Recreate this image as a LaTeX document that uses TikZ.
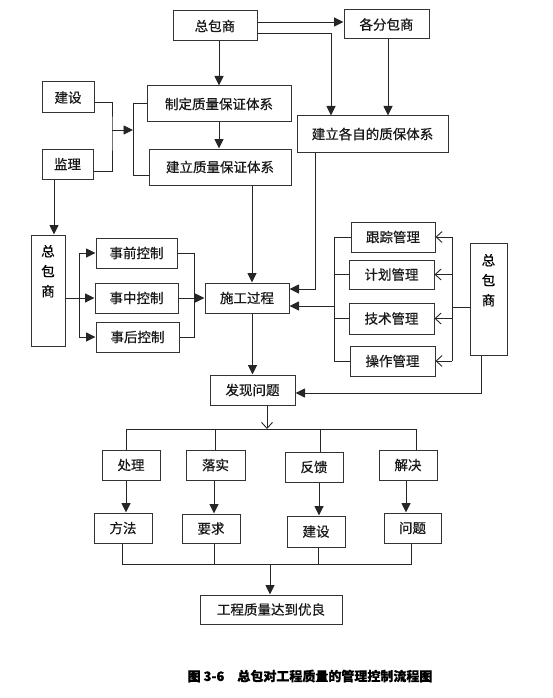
\documentclass[tikz,border=0pt]{standalone}
\usepackage{fontspec}
\setmainfont{Noto Sans CJK SC}[FakeBold=0.6]
\newfontfamily\capfont{Noto Sans CJK SC}[FakeBold=0.4]
\usetikzlibrary{arrows.meta}
\tikzset{
  box/.style={draw=black!80, line width=1pt, inner sep=0pt, font=\fontsize{13.5}{20}\selectfont, text=black!90},
  ln/.style={draw=black!85, line width=0.9pt},
  arr/.style={ln, -{Triangle[length=9.5pt,width=9pt]}},
  oarr/.style={ln, -{Straight Barb[length=6pt,width=11pt]}},
}
\begin{document}
\begin{tikzpicture}[x=1pt,y=-1pt]
\useasboundingbox (0,0) rectangle (553,698);
% top
\node[box, minimum width=84pt, minimum height=30pt] (zb) at (215,26) {总包商};
\node[box, minimum width=85pt, minimum height=29pt] (fb) at (386.5,24.5) {各分包商};
\node[box, minimum width=144pt, minimum height=36pt] (zd) at (219,104) {制定质量保证体系};
\node[box, minimum width=142pt, minimum height=36pt] (jl) at (220,167) {建立质量保证体系};
\node[box, minimum width=151pt, minimum height=36pt] (gz) at (372.5,134) {建立各自的质保体系};
\node[box, minimum width=52pt, minimum height=31pt] (js) at (68,97.5) {建设};
\node[box, minimum width=51pt, minimum height=30pt] (jli) at (67.5,164) {监理};
% middle left
\node[box, minimum width=34pt, minimum height=111pt,
  label={[align=center, anchor=north, yshift=-7pt, font=\fontsize{13.5}{20}\selectfont]north:总\\包\\商}] (zl) at (48,290.5) {};
\node[box, minimum width=81pt, minimum height=30pt] (sq) at (136.5,253) {事前控制};
\node[box, minimum width=83pt, minimum height=30pt] (sz) at (136.5,298) {事中控制};
\node[box, minimum width=83pt, minimum height=30pt] (sh) at (137.5,337) {事后控制};
\node[box, minimum width=84pt, minimum height=30pt] (sg) at (247,298) {施工过程};
\node[box, minimum width=85pt, minimum height=30pt] (fx) at (252.5,390) {发现问题};
% middle right
\node[box, minimum width=84pt, minimum height=30pt] (gzm) at (393,237) {跟踪管理};
\node[box, minimum width=85pt, minimum height=29pt] (jh) at (391.5,274.5) {计划管理};
\node[box, minimum width=85pt, minimum height=31pt] (jsg) at (391.5,318.5) {技术管理};
\node[box, minimum width=85pt, minimum height=30pt] (cz) at (392.5,361) {操作管理};
\node[box, minimum width=37pt, minimum height=112pt,
  label={[align=center, anchor=north, yshift=-8pt, font=\fontsize{13.5}{20}\selectfont]north:总\\包\\商}] (zr) at (488.5,299) {};
% bottom
\node[box, minimum width=58pt, minimum height=30pt] (cl) at (131,465) {处理};
\node[box, minimum width=59pt, minimum height=30pt] (ls) at (215.5,465) {落实};
\node[box, minimum width=58pt, minimum height=30pt] (fk) at (314,467) {反馈};
\node[box, minimum width=58pt, minimum height=30pt] (jj) at (408,465) {解决};
\node[box, minimum width=58pt, minimum height=30pt] (ff) at (123,528) {方法};
\node[box, minimum width=58pt, minimum height=29pt] (yq) at (211,528.5) {要求};
\node[box, minimum width=58pt, minimum height=31pt] (jsb) at (316,531.5) {建设};
\node[box, minimum width=57pt, minimum height=30pt] (wt) at (412.5,528) {问题};
\node[box, minimum width=142pt, minimum height=29pt] (yl) at (271,609.5) {工程质量达到优良};
\node[font=\capfont\bfseries\fontsize{13}{15}\selectfont, text=black] (cap) at (310,676) {图 3-6\quad 总包对工程质量的管理控制流程图};

% coordinates
\coordinate (m1) at (112,130);
\coordinate (m2) at (133,130);
\coordinate (bt) at (133,103);
\coordinate (bb) at (133,175);
\coordinate (lb) at (79,298);
\coordinate (rb) at (194,298);
\coordinate (pb) at (334,306);
\coordinate (qb) at (452,307);
\coordinate (sp) at (267,429);
\coordinate (mg) at (270,564);

% top connectors
\draw[arr] ([yshift=4pt]zb.east) -- ([yshift=4pt]zb.east -| fb.west);
\draw[arr] ([yshift=-7pt]zb.east) -| ([xshift=-41.5pt]gz.north);
\draw[arr] ([xshift=1.5pt]fb.south) -- ([xshift=1.5pt]fb.south |- gz.north);
\draw[arr] (zb.south -| zd.north) -- (zd.north);
\draw[arr] (zd.south) -- (zd.south |- jl.north);
\draw[ln] ([yshift=-4.5pt]js.east) -| (m1) |- ([yshift=-7pt]jli.east);
\draw[arr] (m1) -- (m2);
\draw[ln] (zd.west |- bt) -- (bt) -- (bb) -- (jl.west |- bb);
\draw[arr] ([xshift=-13.5pt]jli.south) -- ([xshift=-13.5pt]jli.south |- zl.north);
\draw[arr] ([xshift=5pt]sg.north |- jl.south) -- ([xshift=5pt]sg.north);
\draw[arr] ([xshift=-57.5pt]gz.south) |- ([yshift=9pt]sg.east);

% left group
\draw[arr] (zl.east |- sz.west) -- (sz.west);
\draw[arr] (lb) |- (sq.west);
\draw[arr] (lb) |- (sh.west);
\draw[ln] (sq.east) -| (rb);
\draw[ln] (sh.east) -| (rb);
\draw[arr] (sz.east) -- (sg.west);

% right group
\draw[ln] (gzm.west) -| (pb);
\draw[ln] (cz.west) -| (pb);
\draw[ln] (jh.west) -- (jh.west -| pb);
\draw[ln] (jsg.west) -- (jsg.west -| pb);
\draw[arr] (pb) -- (sg.east |- pb);
\draw[ln] (zr.west |- qb) -- (qb);
\draw[ln] (gzm.east -| qb) -- (cz.east -| qb);
\draw[oarr] (gzm.east -| qb) -- (gzm.east);
\draw[oarr] (jh.east -| qb) -- (jh.east);
\draw[oarr] (jsg.east -| qb) -- (jsg.east);
\draw[oarr] (cz.east -| qb) -- (cz.east);
\draw[arr] ([xshift=-7.5pt]zr.south) |- ([yshift=-3pt]fx.east);

% down
\draw[arr] (sg.south -| fx.north) -- (fx.north);
\draw[oarr] ([xshift=14.5pt]fx.south) -- (sp);
\draw[ln] ([xshift=-5pt]cl.north |- sp) -- ([xshift=8pt]jj.north |- sp);
\draw[ln] ([xshift=-5pt]cl.north |- sp) -- ([xshift=-5pt]cl.north);
\draw[ln] (ls.north |- sp) -- (ls.north);
\draw[ln] ([xshift=6pt]fk.north |- sp) -- ([xshift=6pt]fk.north);
\draw[ln] ([xshift=8pt]jj.north |- sp) -- ([xshift=8pt]jj.north);
\draw[arr] ([xshift=-5pt]cl.south) -- ([xshift=-5pt]cl.south |- ff.north);
\draw[arr] ([xshift=-1.5pt]ls.south) -- ([xshift=-1.5pt]ls.south |- yq.north);
\draw[arr] ([xshift=5pt]fk.south) -- ([xshift=5pt]fk.south |- jsb.north);
\draw[arr] ([xshift=-2pt]jj.south) -- ([xshift=-2pt]jj.south |- wt.north);
\draw[ln] ([xshift=-1pt]ff.south) |- (mg);
\draw[ln] ([xshift=-1.5pt]wt.south) |- (mg);
\draw[ln] ([xshift=3pt]yq.south) -- ([xshift=3pt]yq.south |- mg);
\draw[ln] ([xshift=2pt]jsb.south) -- ([xshift=2pt]jsb.south |- mg);
\draw[arr] (mg) -- (mg |- yl.north);
\end{tikzpicture}
\end{document}
